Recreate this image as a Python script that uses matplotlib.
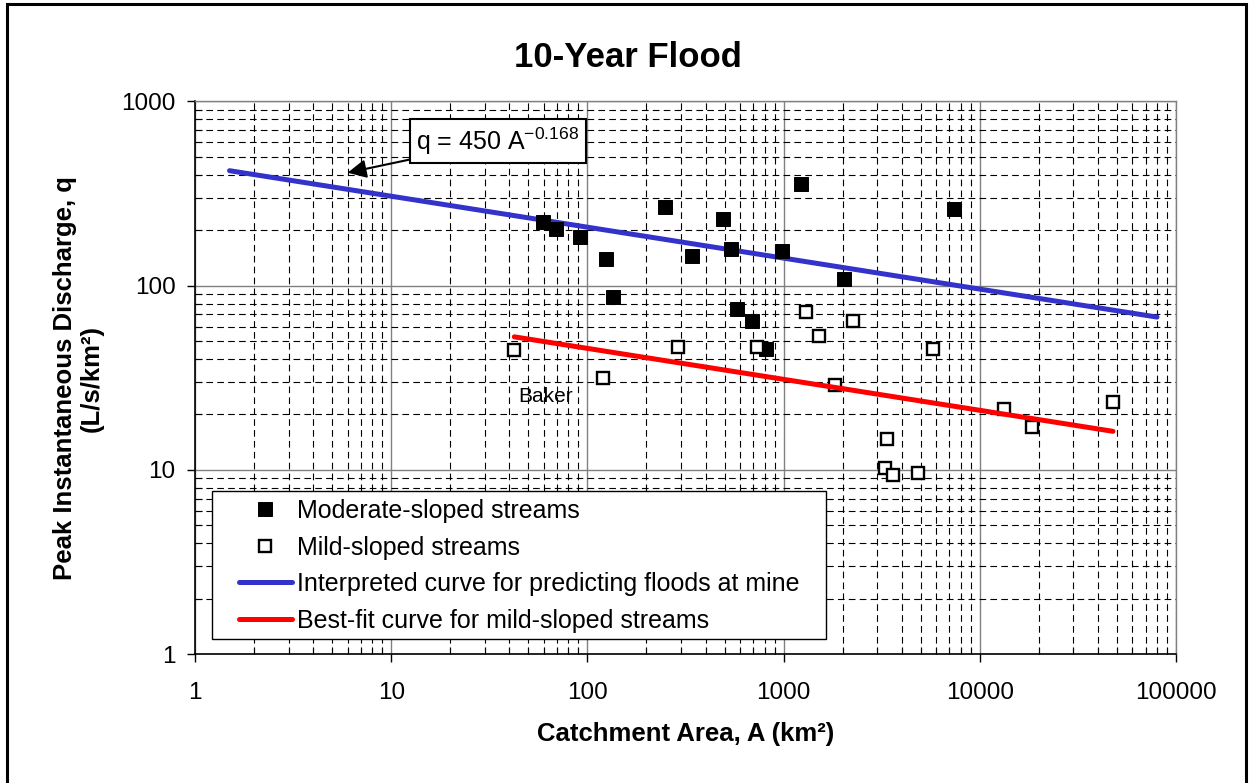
import numpy as np
import matplotlib
matplotlib.use('Agg')
import matplotlib.pyplot as plt
from matplotlib.patches import Rectangle
from matplotlib.ticker import LogLocator, NullFormatter
from matplotlib.lines import Line2D

plt.rcParams['font.family'] = ['Liberation Sans', 'DejaVu Sans']
plt.rcParams['mathtext.fontset'] = 'custom'
plt.rcParams['mathtext.rm'] = 'Liberation Sans'

# moderate-sloped streams: catchment area (km2), 10-yr peak discharge (L/s/km2)
mod_area = [59.6, 69.2, 91.7, 124, 134.6, 249.5, 342, 491, 540, 581, 694, 818, 976, 1223, 2040, 7360]
mod_q = [221, 203, 184, 139, 86.7, 266, 144, 229, 159, 74.9, 63.9, 45.3, 154, 355, 109, 259]

# mild-sloped streams
mild_area = [42.4, 120.5, 291, 735, 1301, 1521, 1821, 2266, 3299, 3377, 3624, 4842, 5754, 13280, 18390, 47730]
mild_q = [44.7, 31.6, 46.6, 46.3, 71.6, 53.5, 28.8, 64.5, 10.2, 14.7, 9.42, 9.65, 45.5, 21.3, 17.0, 23.4]

# q = c * A^b curves
interp_coef, interp_exp = 450, -0.168
interp_range = [1.5, 80000]
fit_coef, fit_exp = 99, -0.168

x_ticks = [1, 10, 100, 1000, 10000, 100000]
x_labels = ['1', '10', '100', '1000', '10000', '100000']
y_ticks = [1, 10, 100, 1000]
y_labels = ['1', '10', '100', '1000']

fig = plt.figure(figsize=(12.5, 7.83), dpi=100)
ax = fig.add_axes([0.156, 0.1644, 0.7848, 0.7062])

ax.set_xscale('log')
ax.set_yscale('log')
ax.set_xlim(1, 100000)
ax.set_ylim(1, 1000)

ax.set_xticks(x_ticks)
ax.set_xticklabels(x_labels)
ax.set_yticks(y_ticks)
ax.set_yticklabels(y_labels)
ax.xaxis.set_minor_locator(LogLocator(base=10, subs=np.arange(2, 10)))
ax.yaxis.set_minor_locator(LogLocator(base=10, subs=np.arange(2, 10)))
ax.xaxis.set_minor_formatter(NullFormatter())
ax.yaxis.set_minor_formatter(NullFormatter())

ax.grid(which='major', color='#808080', lw=1.0, ls='-')
ax.grid(which='minor', color='black', lw=0.8, ls=(0, (6, 3.8)))
ax.set_axisbelow(True)

ax.tick_params(axis='both', which='major', direction='out', length=6, width=1, labelsize=17.5)
ax.tick_params(axis='y', which='major', pad=8)
ax.tick_params(axis='x', which='major', pad=14)
ax.tick_params(axis='both', which='minor', direction='in', length=5, width=0.8)
for s in ['left', 'bottom']:
    ax.spines[s].set_color('black')
    ax.spines[s].set_linewidth(1.2)
for s in ['top', 'right']:
    ax.spines[s].set_color('#808080')
    ax.spines[s].set_linewidth(1.0)

# interpreted curve
xa = np.array(interp_range, dtype=float)
ax.plot(xa, interp_coef * xa ** interp_exp, color='#3333CC', lw=3.6, zorder=3,
        solid_capstyle='round')

ax.plot(mod_area, mod_q, ls='none', marker='s', ms=10, mfc='black', mec='black',
        mew=0.7, zorder=4)
ax.plot(mild_area, mild_q, ls='none', marker='s', ms=8.5, mfc='white', mec='black',
        mew=1.7, zorder=5)

# best fit through the mild-sloped data range
xb = np.array([min(mild_area), max(mild_area)], dtype=float)
ax.plot(xb, fit_coef * xb ** fit_exp, color='#FF0000', lw=3.6, zorder=6,
        solid_capstyle='round')

ax.text(61, 25, 'Baker', fontsize=15, ha='center', va='center', zorder=7)

ax.annotate('q = 450 A$^{\\mathregular{-0.168}}$', xy=(6, 410), xytext=(35, 610),
            textcoords='data', fontsize=18, ha='center', va='center', zorder=8,
            bbox=dict(boxstyle='square,pad=0.25', fc='white', ec='black', lw=1.5),
            arrowprops=dict(arrowstyle='-|>', color='black', lw=1.5,
                            mutation_scale=28, shrinkA=0, shrinkB=0))

# legend with square frame
ax.add_patch(Rectangle((0.0173, 0.0277), 0.6264, 0.2681, transform=ax.transAxes,
                       fc='white', ec='black', lw=1.0, zorder=9))
handles = [
    Line2D([], [], ls='none', marker='s', ms=10, mfc='black', mec='black', mew=0.7),
    Line2D([], [], ls='none', marker='s', ms=8.5, mfc='white', mec='black', mew=1.7),
    Line2D([], [], color='#3333CC', lw=3.6, solid_capstyle='round'),
    Line2D([], [], color='#FF0000', lw=3.6, solid_capstyle='round'),
]
labels = ['Moderate-sloped streams', 'Mild-sloped streams',
          'Interpreted curve for predicting floods at mine',
          'Best-fit curve for mild-sloped streams']
leg = ax.legend(handles, labels, loc='center left', bbox_to_anchor=(0.0449, 0.1600),
                frameon=False, fontsize=18, handlelength=2.1, handletextpad=0.2,
                borderpad=0, borderaxespad=0, labelspacing=0.5)
leg.set_zorder(10)

ax.set_xlabel('Catchment Area, A (km²)', fontsize=18.5, fontweight='bold', labelpad=13)
fig.text(0.0625, 0.5172, 'Peak Instantaneous Discharge, q\n(L/s/km²)', rotation=90,
         ha='center', va='center', multialignment='center', fontsize=18.5,
         fontweight='bold', linespacing=1.15)
fig.text(0.5025, 0.9266, '10-Year Flood', ha='center', va='center', fontsize=25,
         fontweight='bold')

# outer chart border
fig.patches.append(Rectangle((0.0056, -0.01), 0.9912, 1.0055, transform=fig.transFigure,
                             fill=False, ec='black', lw=2.2))

fig.savefig('out.png', dpi=100, facecolor='white')
